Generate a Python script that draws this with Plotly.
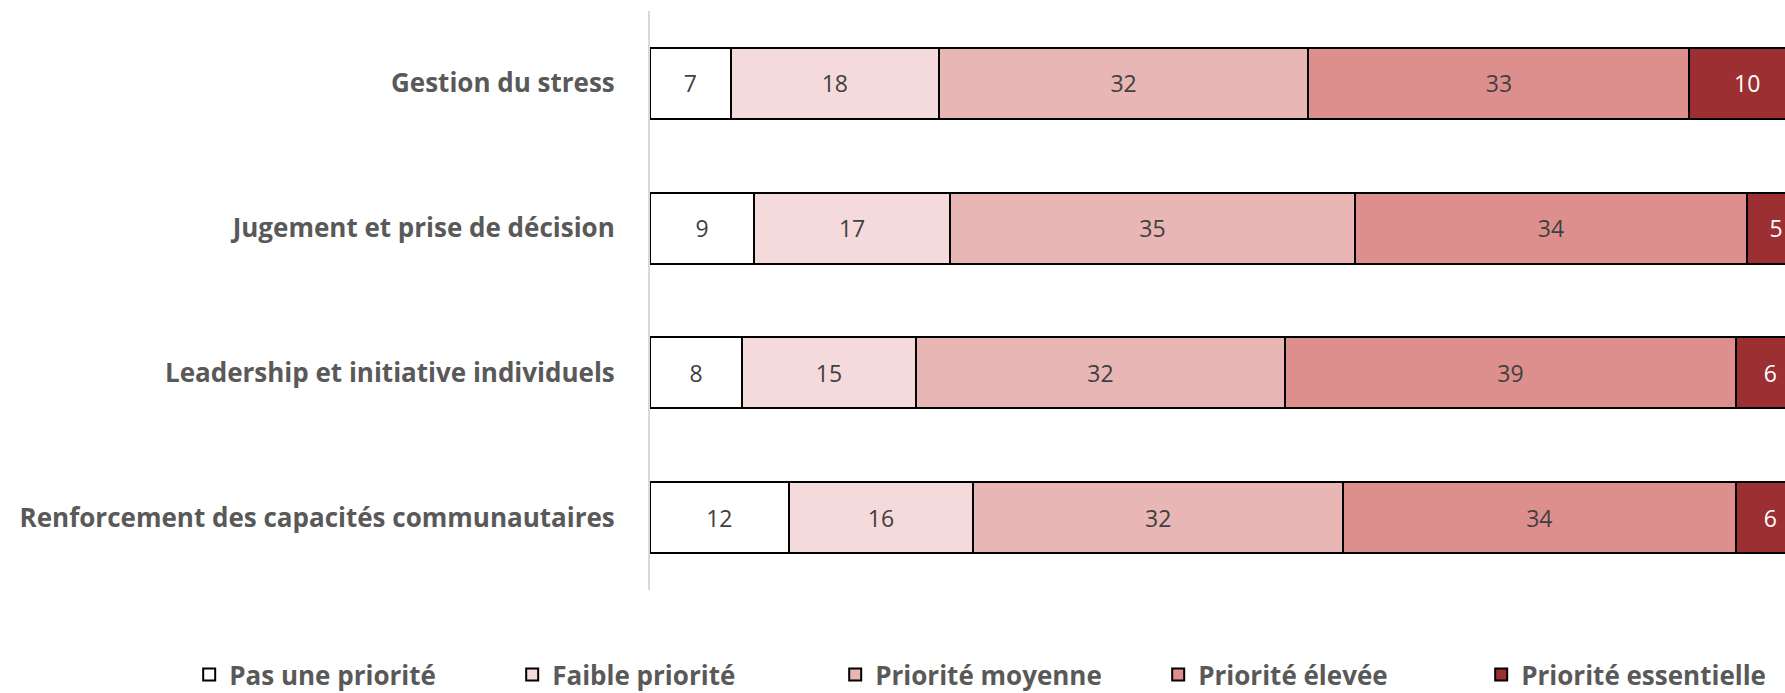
import plotly.graph_objects as go

categories = [
    "Gestion du stress",
    "Jugement et prise de décision",
    "Leadership et initiative individuels",
    "Renforcement des capacités communautaires",
]
series_names = [
    "Pas une priorité",
    "Faible priorité",
    "Priorité moyenne",
    "Priorité élevée",
    "Priorité essentielle",
]
pas_une_priorite = [7, 9, 8, 12]
faible_priorite = [18, 17, 15, 16]
priorite_moyenne = [32, 35, 32, 32]
priorite_elevee = [33, 34, 39, 34]
priorite_essentielle = [10, 5, 6, 6]

series_values = [
    pas_une_priorite,
    faible_priorite,
    priorite_moyenne,
    priorite_elevee,
    priorite_essentielle,
]
fill_colors = ["#FFFFFF", "#F5DADB", "#E8B6B5", "#DD8F8E", "#9B2F32"]
text_colors = ["#404040", "#404040", "#404040", "#404040", "#FFFFFF"]

FONT = "Open Sans"

fig = go.Figure()
for name, vals, fc, tc in zip(series_names, series_values, fill_colors, text_colors):
    fig.add_trace(
        go.Bar(
            name=name,
            y=categories,
            x=vals,
            orientation="h",
            marker=dict(color=fc, line=dict(color="#000000", width=2)),
            text=[str(v) for v in vals],
            textposition="inside",
            insidetextanchor="middle",
            textangle=0,
            constraintext="none",
            textfont=dict(family=FONT, size=23, color=tc),
            hoverinfo="skip",
        )
    )

fig.update_layout(
    barmode="stack",
    bargap=0.51,
    width=1785,
    height=693,
    margin=dict(l=650, r=0, t=11, b=103, autoexpand=False),
    paper_bgcolor="white",
    plot_bgcolor="white",
    showlegend=True,
    legend=dict(
        orientation="h",
        x=-0.406,
        xanchor="left",
        y=-0.146,
        yanchor="middle",
        entrywidth=278,
        entrywidthmode="pixels",
        traceorder="normal",
        font=dict(family=FONT, size=26, color="#595959", weight="bold"),
    ),
    font=dict(family=FONT),
)
fig.update_xaxes(
    range=[0, 98.27],
    showgrid=False,
    zeroline=False,
    showticklabels=False,
    showline=False,
    ticks="",
)
fig.update_yaxes(
    categoryorder="array",
    categoryarray=categories,
    range=[3.5, -0.5],
    showgrid=False,
    zeroline=False,
    showline=True,
    linecolor="#D9D9D9",
    linewidth=2,
    ticks="",
    ticklabelstandoff=28,
    tickfont=dict(family=FONT, size=26, color="#595959", weight="bold"),
)

fig.write_html("out.html")
